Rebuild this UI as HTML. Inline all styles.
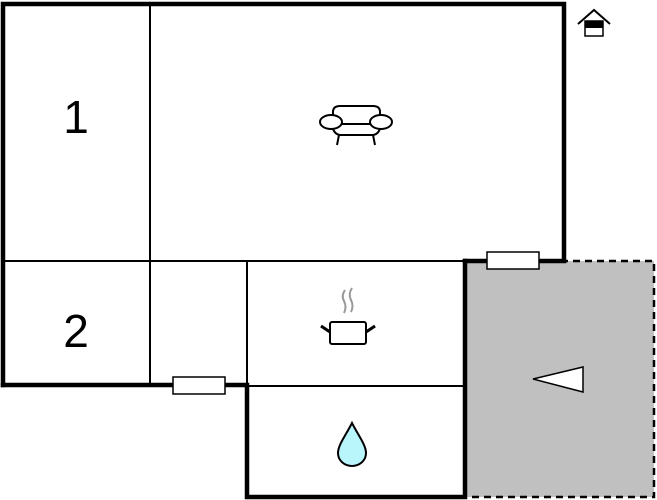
<!DOCTYPE html>
<html><head><meta charset="utf-8"><style>
html,body{margin:0;padding:0;background:#fff;}
svg{display:block;}
text{font-family:"Liberation Sans",sans-serif;}
</style></head><body>
<svg width="657" height="500" viewBox="0 0 657 500" xmlns="http://www.w3.org/2000/svg">
<rect x="0" y="0" width="657" height="500" fill="#fff"/>
<rect x="465" y="261" width="189" height="236" fill="#c0c0c0"/>
<path d="M465 261 H654 V497 H465" fill="none" stroke="#000" stroke-width="2.5" stroke-dasharray="7,5"/>
<g stroke="#000" stroke-width="2" fill="none">
<line x1="3" y1="261" x2="465" y2="261"/>
<line x1="150" y1="4" x2="150" y2="385"/>
<line x1="247" y1="261" x2="247" y2="385"/>
<line x1="247" y1="386" x2="465" y2="386"/>
</g>
<g stroke="#000" stroke-width="4.5" fill="none" stroke-linecap="square">
<path d="M3 385 V4 H564 V261 H465"/>
<path d="M3 385 H247 V497 H465 V261"/>
</g>
<rect x="487" y="252" width="52" height="17" fill="#fff" stroke="#000" stroke-width="1.5"/>
<rect x="173" y="377" width="52" height="17" fill="#fff" stroke="#000" stroke-width="1.5"/>
<text x="76" y="133" font-size="46" text-anchor="middle">1</text>
<text x="76" y="347" font-size="46" text-anchor="middle">2</text>
<g stroke="#000" stroke-width="2" fill="#fff">
<path d="M333 124 V112 Q333 106 340 106 H373 Q380 106 380 112 V124"/>
<path d="M332 124 Q333 134 340 135 H373 Q380 134 381 124 Z"/>
<ellipse cx="331" cy="122" rx="11" ry="7"/>
<ellipse cx="381" cy="122" rx="11" ry="7"/>
<line x1="339" y1="135" x2="337" y2="145"/>
<line x1="373" y1="135" x2="375" y2="145"/>
</g>
<g fill="none">
<path d="M345 290 Q341 296 344 301 Q347 307 344 313" stroke="#999" stroke-width="2"/>
<path d="M352 288 Q348 294 351 300 Q354 306 351 312" stroke="#999" stroke-width="2"/>
<rect x="330" y="322" width="36" height="22" rx="2" fill="#fff" stroke="#000" stroke-width="2"/>
<line x1="321" y1="326" x2="330" y2="332" stroke="#000" stroke-width="3"/>
<line x1="366" y1="332" x2="375" y2="326" stroke="#000" stroke-width="3"/>
</g>
<path d="M352 423 C346 435 338 445 338 453 C338 461 345 466 352 466 C359 466 366 461 366 453 C366 445 358 435 352 423 Z" fill="#b9f6fb" stroke="#000" stroke-width="2"/>
<polygon points="533,379 583,367 583,392" fill="#fff" stroke="#000" stroke-width="1.5"/>
<g>
<path d="M578 24 L594 10 L610 24" fill="none" stroke="#000" stroke-width="2"/>
<rect x="585" y="21" width="18" height="15" fill="#fff" stroke="#000" stroke-width="1.5"/>
<rect x="585" y="21" width="18" height="7" fill="#000"/>
</g>
</svg>
</body></html>
